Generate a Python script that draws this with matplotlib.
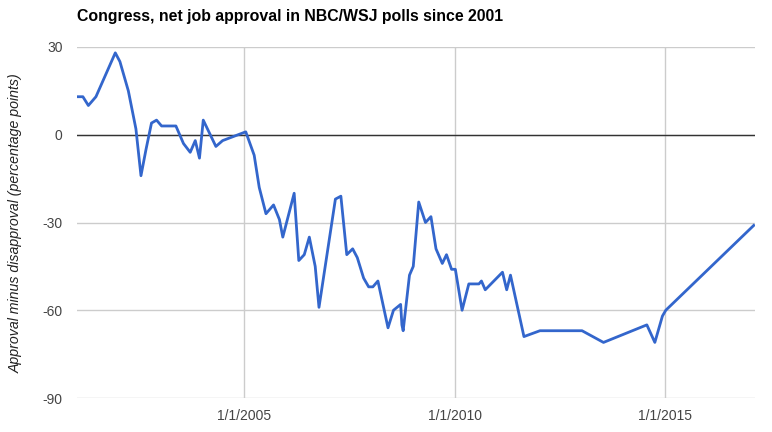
import matplotlib.pyplot as plt

plt.rcParams['font.family'] = ['Liberation Sans', 'DejaVu Sans']
plt.rcParams['axes.unicode_minus'] = False

# poll dates (decimal years) and net approval (approve minus disapprove)
years = [2001.04, 2001.17, 2001.30, 2001.48, 2001.94, 2002.05, 2002.25, 2002.43,
         2002.55, 2002.67, 2002.80, 2002.92, 2003.04, 2003.38, 2003.56, 2003.72,
         2003.84, 2003.94, 2004.03, 2004.33, 2004.49, 2005.04, 2005.24, 2005.36,
         2005.52, 2005.70, 2005.84, 2005.92, 2006.19, 2006.30, 2006.43, 2006.55,
         2006.69, 2006.78, 2007.17, 2007.30, 2007.44, 2007.58, 2007.69, 2007.84,
         2007.96, 2008.06, 2008.18, 2008.42, 2008.55, 2008.72, 2008.75, 2008.78,
         2008.93, 2009.02, 2009.15, 2009.31, 2009.44, 2009.56, 2009.71, 2009.81,
         2009.93, 2010.02, 2010.18, 2010.34, 2010.58, 2010.64, 2010.73, 2011.14,
         2011.24, 2011.33, 2011.65, 2012.03, 2013.03, 2013.54, 2014.57, 2014.76,
         2014.94, 2015.02, 2017.11]
net = [13, 13, 10, 13, 28, 25, 15, 2,
       -14, -5, 4, 5, 3, 3, -3, -6,
       -2, -8, 5, -4, -2, 1, -7, -18,
       -27, -24, -29, -35, -20, -43, -41, -35,
       -45, -59, -22, -21, -41, -39, -42, -49,
       -52, -52, -50, -66, -60, -58, -65, -67,
       -48, -45, -23, -30, -28, -39, -44, -41,
       -46, -46, -60, -51, -51, -50, -53, -47,
       -53, -48, -69, -67, -67, -71, -65, -71,
       -62, -60, -31]

x_ticks = [2005, 2010, 2015]
x_labels = ['1/1/2005', '1/1/2010', '1/1/2015']
y_ticks = [30, 0, -30, -60, -90]

fig = plt.figure(figsize=(7.72, 4.32), dpi=100)
ax = fig.add_axes([77/772, 1 - 398/432, (755 - 77)/772, (398 - 47)/432])

ax.plot(years, net, color='#3366cc', linewidth=2, zorder=3)
ax.axhline(0, color='#333333', linewidth=1, zorder=2)

ax.set_xlim(2001.03, 2017.14)
ax.set_ylim(-90, 30)
ax.set_xticks(x_ticks)
ax.set_xticklabels(x_labels)
ax.set_yticks(y_ticks)
ax.grid(True, color='#cccccc', linewidth=1, zorder=1)
ax.tick_params(length=0, labelsize=10, labelcolor='#444444')
ax.tick_params(axis='y', pad=10.5)
ax.tick_params(axis='x', pad=8)
for s in ax.spines.values():
    s.set_visible(False)

fig.text(16/772, 1 - 223/432, 'Approval minus disapproval (percentage points)',
         fontsize=10.2, style='italic', color='#222222', rotation=90,
         ha='center', va='center')
fig.text(77/772, 1 - 17/432, 'Congress, net job approval in NBC/WSJ polls since 2001',
         fontsize=11.4, fontweight='bold', color='#000000', va='center', ha='left')

fig.savefig('out.png', dpi=100)
